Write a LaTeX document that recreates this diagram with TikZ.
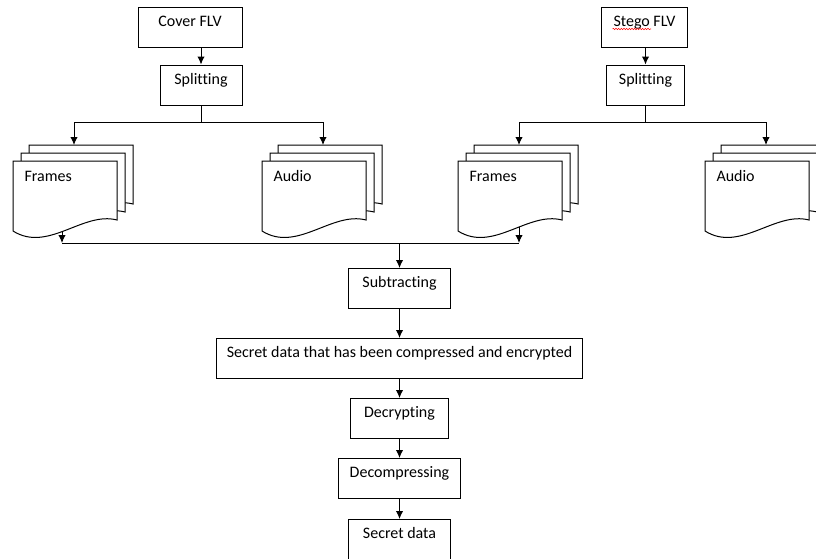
\documentclass[tikz,border=0pt]{standalone}
\usepackage{fontspec}
\setmainfont{Carlito}[Ligatures=NoCommon]
\usetikzlibrary{arrows.meta,positioning,decorations.pathmorphing}

\newcommand{\docstack}[4]{%
  \begin{scope}[shift={#2}]
    \pic at (16,-16) {docpage};
    \pic at (8,-8) {docpage};
    \pic at (0,0) {docpage};
    \node [doctext] (#1) at (11,20) {#3};
    \coordinate (#1-top) at (61,-16);
    \coordinate (#1-bot) at #4;
  \end{scope}}

\begin{document}
\begin{tikzpicture} [
    x = 0.75pt, y = -0.75pt,
    line width = 0.75pt,
    > = {Latex[length = 6pt, width = 5.5pt]},
    every node/.style = { font = \fontsize{12}{14}\selectfont },
    stepbox/.style = { draw, rectangle, inner xsep = 2pt, inner ysep = 3pt,
                       text height = 11.5pt, text depth = 12.5pt },
    doctext/.style = { anchor = base west, inner sep = 0 },
    docpage/.pic = {
        \draw [fill = white] (0,0) -- (104,0) -- (104,59)
            .. controls (70,50) and (35,92) .. (0,70) -- cycle;
    }
    ]
    \clip (0,0) rectangle (816,558);

    \node [stepbox, minimum width = 78pt] (cov) at (190,27) {Cover FLV};
    \node [stepbox, minimum width = 61.5pt] (spA) at (201,85) {Splitting};
    \node [stepbox, minimum width = 65pt] (stg) at (644.5,27) {Stego FLV};
    \node [stepbox, minimum width = 59pt] (spB) at (645.5,85) {Splitting};

    \draw [red, line width = 0.4pt, decorate,
           decoration = { snake, amplitude = 0.5pt, segment length = 2pt }]
        ([xshift = -24pt, yshift = -2pt] stg.base) -- ++(29pt,0);

    \docstack{frA}{(13,161)}{Frames}{(49,70)}
    \docstack{auA}{(262,161)}{Audio}{(52,69)}
    \docstack{frB}{(458,161)}{Frames}{(61,66)}
    \docstack{auB}{(705,161)}{Audio}{(52,69)}

    \draw [->] (cov.south -| spA) -- (spA);
    \draw [->] (stg.south -| spB) -- (spB);
    \draw [->] (spA.south) -- ++(0,17) -| (frA-top);
    \draw [->] (spA.south) -- ++(0,17) -| (auA-top);
    \draw [->] (spB.south) -- ++(0,17) -| (frB-top);
    \draw [->] (spB.south) -- ++(0,17) -| (auB-top);

    \node [stepbox, minimum width = 77pt] (sub) at (399.5,288.5) {Subtracting};
    \node [stepbox, minimum width = 274pt, below = 21.75pt of sub] (sec)
        {Secret data that has been compressed and encrypted};
    \node [stepbox, minimum width = 73pt, below = 14.25pt of sec] (dec) {Decrypting};
    \node [stepbox, minimum width = 92pt, below = 14.25pt of dec] (dcm) {Decompressing};
    \node [stepbox, minimum width = 76pt, below = 15pt of dcm] (sd) {Secret data};

    \coordinate (mrg) at (399.5,243);
    \draw (frA-bot |- mrg) -- (frB-bot |- mrg);
    \draw [->] (frA-bot) -- (frA-bot |- mrg);
    \draw [->] (frB-bot) -- (frB-bot |- mrg);
    \draw [->] (mrg) -- (sub);
    \draw [->] (sub) -- (sec);
    \draw [->] (sec) -- (dec);
    \draw [->] (dec) -- (dcm);
    \draw [->] (dcm) -- (sd);

\end{tikzpicture}
\end{document}
